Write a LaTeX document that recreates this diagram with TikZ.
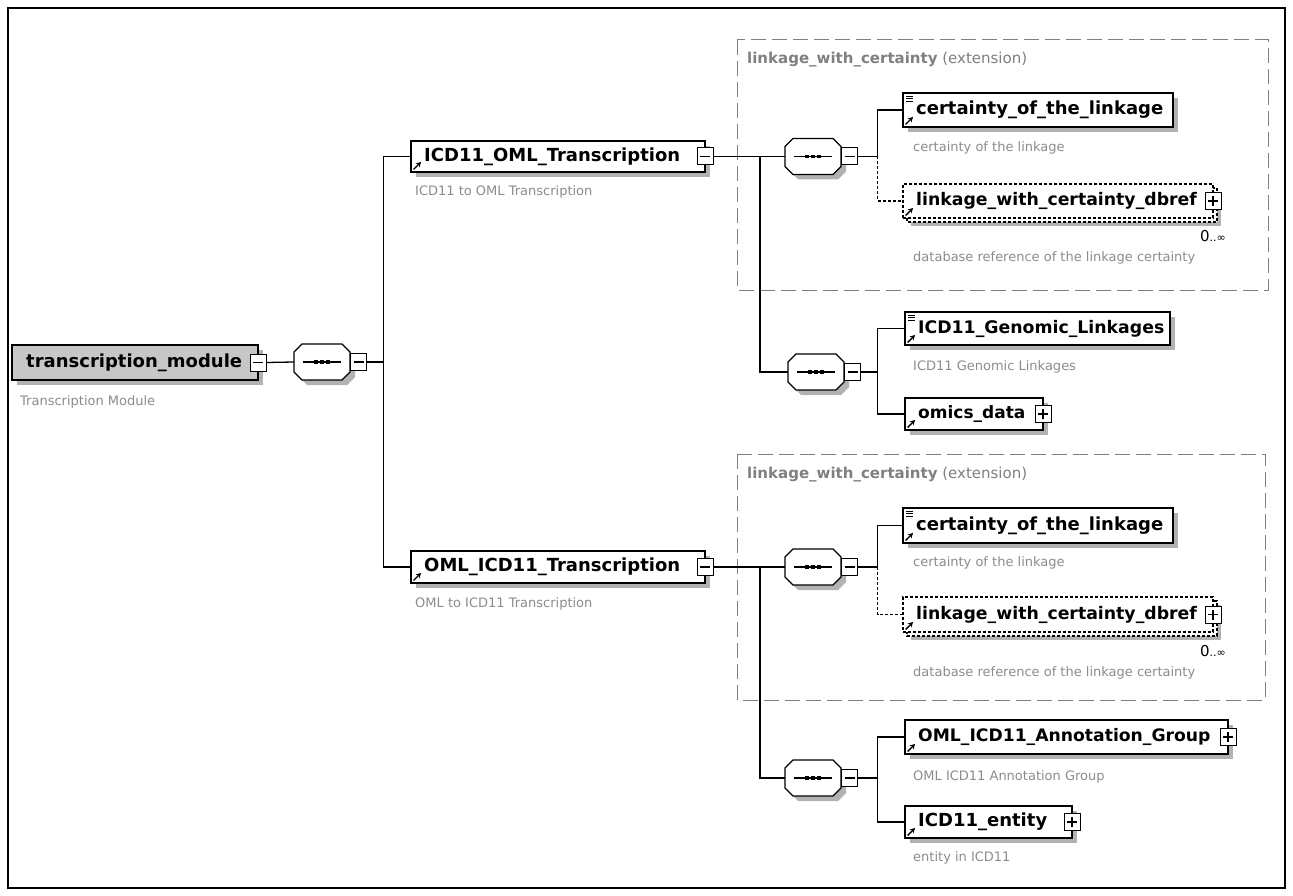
\documentclass[tikz,border=0pt]{standalone}
\usepackage{fontspec}
\setmainfont{DejaVu Sans}
\usetikzlibrary{calc,arrows.meta}

% expand/collapse button: name, position, 0 = minus / 1 = plus
\newcommand\xsdbtn[3]{%
  \node[btn] (#1) at (#2) {};
  \draw[btnsign] ($(#1.center)+(-5,0)$) -- ($(#1.center)+(5,0)$);
  \ifnum#3=1 \draw[btnsign] ($(#1.center)+(0,-5)$) -- ($(#1.center)+(0,5)$);\fi
}
% octagon outline of a sequence compositor, shifted by (#2,#3)
\newcommand\octo[3]{%
  ($(#1.north west)+(8+#2,#3)$) -- ($(#1.north east)+(-8+#2,#3)$) --
  ($(#1.north east)+(#2,8+#3)$) -- ($(#1.south east)+(#2,-8+#3)$) --
  ($(#1.south east)+(-8+#2,#3)$) -- ($(#1.south west)+(8+#2,#3)$) --
  ($(#1.south west)+(#2,-8+#3)$) -- ($(#1.north west)+(#2,8+#3)$) -- cycle}
% sequence compositor: name, centre x, centre y
\newcommand\xsdseq[3]{%
  \node[seqhit] (#1) at (#2,#3) {};
  \fill[shadowfill] \octo{#1}{5}{5};
  \draw[seqline, fill=white] \octo{#1}{0}{0};
  \draw[seqline] ($(#1.west)+(9,0)$) -- ($(#1.east)+(-9,0)$);
  \foreach \d in {-6,0,6} \fill ($(#1.center)+(\d-1.8,-1.8)$) rectangle ++(3.6,3.6);
  \xsdbtn{#1-b}{$(#1.east)+(8.5,0)$}{0}
}
% element box: [font size], name, x1, y1, x2, y2, label
\newcommand\xsdelem[7][18]{%
  \fill[shadowfill] (#3+5,#4+5) rectangle (#5+5,#6+5);
  \node[elbox, minimum width=#5-#3, minimum height=#6-#4] (#2) at (#3,#4) {};
  \draw[refarrow] ($(#2.south west)+(2.5,-2.5)$) -- ++(7.5,-7.5);
  \node[eltext, font=\fontsize{#1}{20}\selectfont\bfseries] (#2-t) at ($(#2.west)+(13,0)$) {#7};
}
% optional, repeating element box (dashed, stacked)
\newcommand\xsdmulti[6]{%
  \fill[shadowfill] (#2+8,#3+8) rectangle (#4+8,#5+8);
  \draw[optbox] (#2+4,#3+4) rectangle (#4+4,#5+4);
  \node[elbox, optbox, minimum width=#4-#2, minimum height=#5-#3] (#1) at (#2,#3) {};
  \draw[refarrow] ($(#1.south west)+(2.5,-2.5)$) -- ++(7.5,-7.5);
  \node[eltext, font=\fontsize{17.3}{20}\selectfont\bfseries] (#1-t) at ($(#1.west)+(13,0)$) {#6};
}
% simple-content marker
\newcommand\simpicon[1]{%
  \draw[line width=0.8pt] ($(#1.north west)+(3,3)$) -- ++(7,0)
    ($(#1.north west)+(3,5.5)$) -- ++(7,0) ($(#1.north west)+(3,8)$) -- ++(7,0);}

\begin{document}
\begin{tikzpicture}[x=1pt,y=-1pt,
  elbox/.style={draw=black, line width=1.5pt, fill=white, anchor=north west, inner sep=0pt, outer sep=0pt},
  optbox/.style={draw=black, line width=1.3pt, fill=white, dash pattern=on 3pt off 2pt},
  shadowfill/.style={fill=black!30},
  eltext/.style={font=\fontsize{18}{20}\selectfont\bfseries, anchor=west, inner sep=0pt},
  desc/.style={font=\fontsize{13}{15}\selectfont, text=black!45, anchor=west, inner sep=0pt},
  btn/.style={draw=black, line width=1pt, fill=white, minimum width=16pt, minimum height=17pt, inner sep=0pt, outer sep=0pt},
  btnsign/.style={line width=1.1pt},
  seqhit/.style={minimum width=56pt, minimum height=36pt, inner sep=0pt, outer sep=0pt},
  seqline/.style={line width=1.2pt},
  conn/.style={line width=1.3pt},
  optconn/.style={line width=1.3pt, dash pattern=on 3pt off 2pt},
  extframe/.style={draw=black!50, line width=1pt, dash pattern=on 15pt off 6pt},
  exttitle/.style={font=\fontsize{15}{17}\selectfont, text=black!50, anchor=west, inner sep=0pt},
  refarrow/.style={line width=1.4pt, -{Stealth[length=5pt,width=5.5pt]}},
  occurs/.style={anchor=east, inner sep=0pt}
]
\useasboundingbox (0,0) rectangle (1293,896);
\fill[white] (0,0) rectangle (1293,896);
\draw[line width=1.5pt] (8,8) rectangle (1285,888);

% extension frames
\draw[extframe] (737,40) rectangle (1268,290);
\node[exttitle] (ext1) at (747,60) {\bfseries linkage\_with\_certainty\mdseries\ (extension)};
\draw[extframe] (737,454) rectangle (1265,700);
\node[exttitle] (ext2) at (747,475) {\bfseries linkage\_with\_certainty\mdseries\ (extension)};

% root element
\fill[shadowfill] (17,350) rectangle (263,385);
\node[elbox, fill=black!22, minimum width=246, minimum height=35] (tm) at (12,345) {};
\node[eltext] (tm-t) at ($(tm.west)+(14,0)$) {transcription\_module};
\xsdbtn{tm-b}{tm.east}{0}
\node[desc] (tm-d) at (20,402) {Transcription Module};

\xsdseq{s0}{322}{362}

% first branch
\xsdelem{icdoml}{411}{141}{705}{172}{ICD11\_OML\_Transcription}
\xsdbtn{icdoml-b}{icdoml.east}{0}
\node[desc] (icdoml-d) at (415,192) {ICD11 to OML Transcription};

\xsdseq{sA}{813}{156.5}
\xsdelem{cert1}{903}{93}{1173}{127}{certainty\_of\_the\_linkage}
\simpicon{cert1}
\node[desc] (cert1-d) at (913,148) {certainty of the linkage};
\xsdmulti{dbref1}{903}{184}{1213}{218}{linkage\_with\_certainty\_dbref}
\xsdbtn{dbref1-b}{dbref1.east}{1}
\node[occurs] (dbref1-o) at (1226,236) {\fontsize{15}{15}\selectfont 0\fontsize{11}{11}\selectfont ..∞};
\node[desc] (dbref1-d) at (913,258) {database reference of the linkage certainty};

\xsdseq{sB}{816}{372}
\xsdelem[17.3]{genomic}{905}{312}{1170}{345}{ICD11\_Genomic\_Linkages}
\simpicon{genomic}
\node[desc] (genomic-d) at (913,367) {ICD11 Genomic Linkages};
\xsdelem[17]{omics}{905}{398}{1043}{430}{omics\_data}
\xsdbtn{omics-b}{omics.east}{1}

% second branch
\xsdelem{omlicd}{411}{551}{705}{583}{OML\_ICD11\_Transcription}
\xsdbtn{omlicd-b}{omlicd.east}{0}
\node[desc] (omlicd-d) at (415,604) {OML to ICD11 Transcription};

\xsdseq{sC}{813}{567}
\xsdelem{cert2}{903}{508}{1173}{543}{certainty\_of\_the\_linkage}
\simpicon{cert2}
\node[desc] (cert2-d) at (913,563) {certainty of the linkage};
\xsdmulti{dbref2}{903}{597}{1213}{632}{linkage\_with\_certainty\_dbref}
\xsdbtn{dbref2-b}{dbref2.east}{1}
\node[occurs] (dbref2-o) at (1226,651) {\fontsize{15}{15}\selectfont 0\fontsize{11}{11}\selectfont ..∞};
\node[desc] (dbref2-d) at (913,673) {database reference of the linkage certainty};

\xsdseq{sD}{813}{778}
\xsdelem[17.2]{annot}{905}{720}{1228}{754}{OML\_ICD11\_Annotation\_Group}
\xsdbtn{annot-b}{annot.east}{1}
\node[desc] (annot-d) at (913,777) {OML ICD11 Annotation Group};
\xsdelem{entity}{905}{806}{1072}{838}{ICD11\_entity}
\xsdbtn{entity-b}{entity.east}{1}
\node[desc] (entity-d) at (913,858) {entity in ICD11};

% connectors
\draw[conn] (tm-b.east) -- (s0.west);
\draw[conn] (s0-b.east) -- ++(17,0) |- (icdoml.west);
\draw[conn] (s0-b.east) ++(17,0) |- (omlicd.west);

\draw[conn] (icdoml-b.east) -- (sA.west);
\draw[conn] (icdoml-b.east) ++(47,0) |- (sB.west);
\draw[conn] (sA-b.east) -- ++(20,0) |- (cert1.west);
\draw[optconn] (sA-b.east) ++(20,0) |- (dbref1.west);
\draw[conn] (sB-b.east) -- ++(17,0) |- (genomic.west);
\draw[conn] (sB-b.east) ++(17,0) |- (omics.west);

\draw[conn] (omlicd-b.east) -- (sC.west);
\draw[conn] (omlicd-b.east) ++(47,0) |- (sD.west);
\draw[conn] (sC-b.east) -- ++(20,0) |- (cert2.west);
\draw[optconn] (sC-b.east) ++(20,0) |- (dbref2.west);
\draw[conn] (sD-b.east) -- ++(20,0) |- (annot.west);
\draw[conn] (sD-b.east) ++(20,0) |- (entity.west);
\end{tikzpicture}
\end{document}
